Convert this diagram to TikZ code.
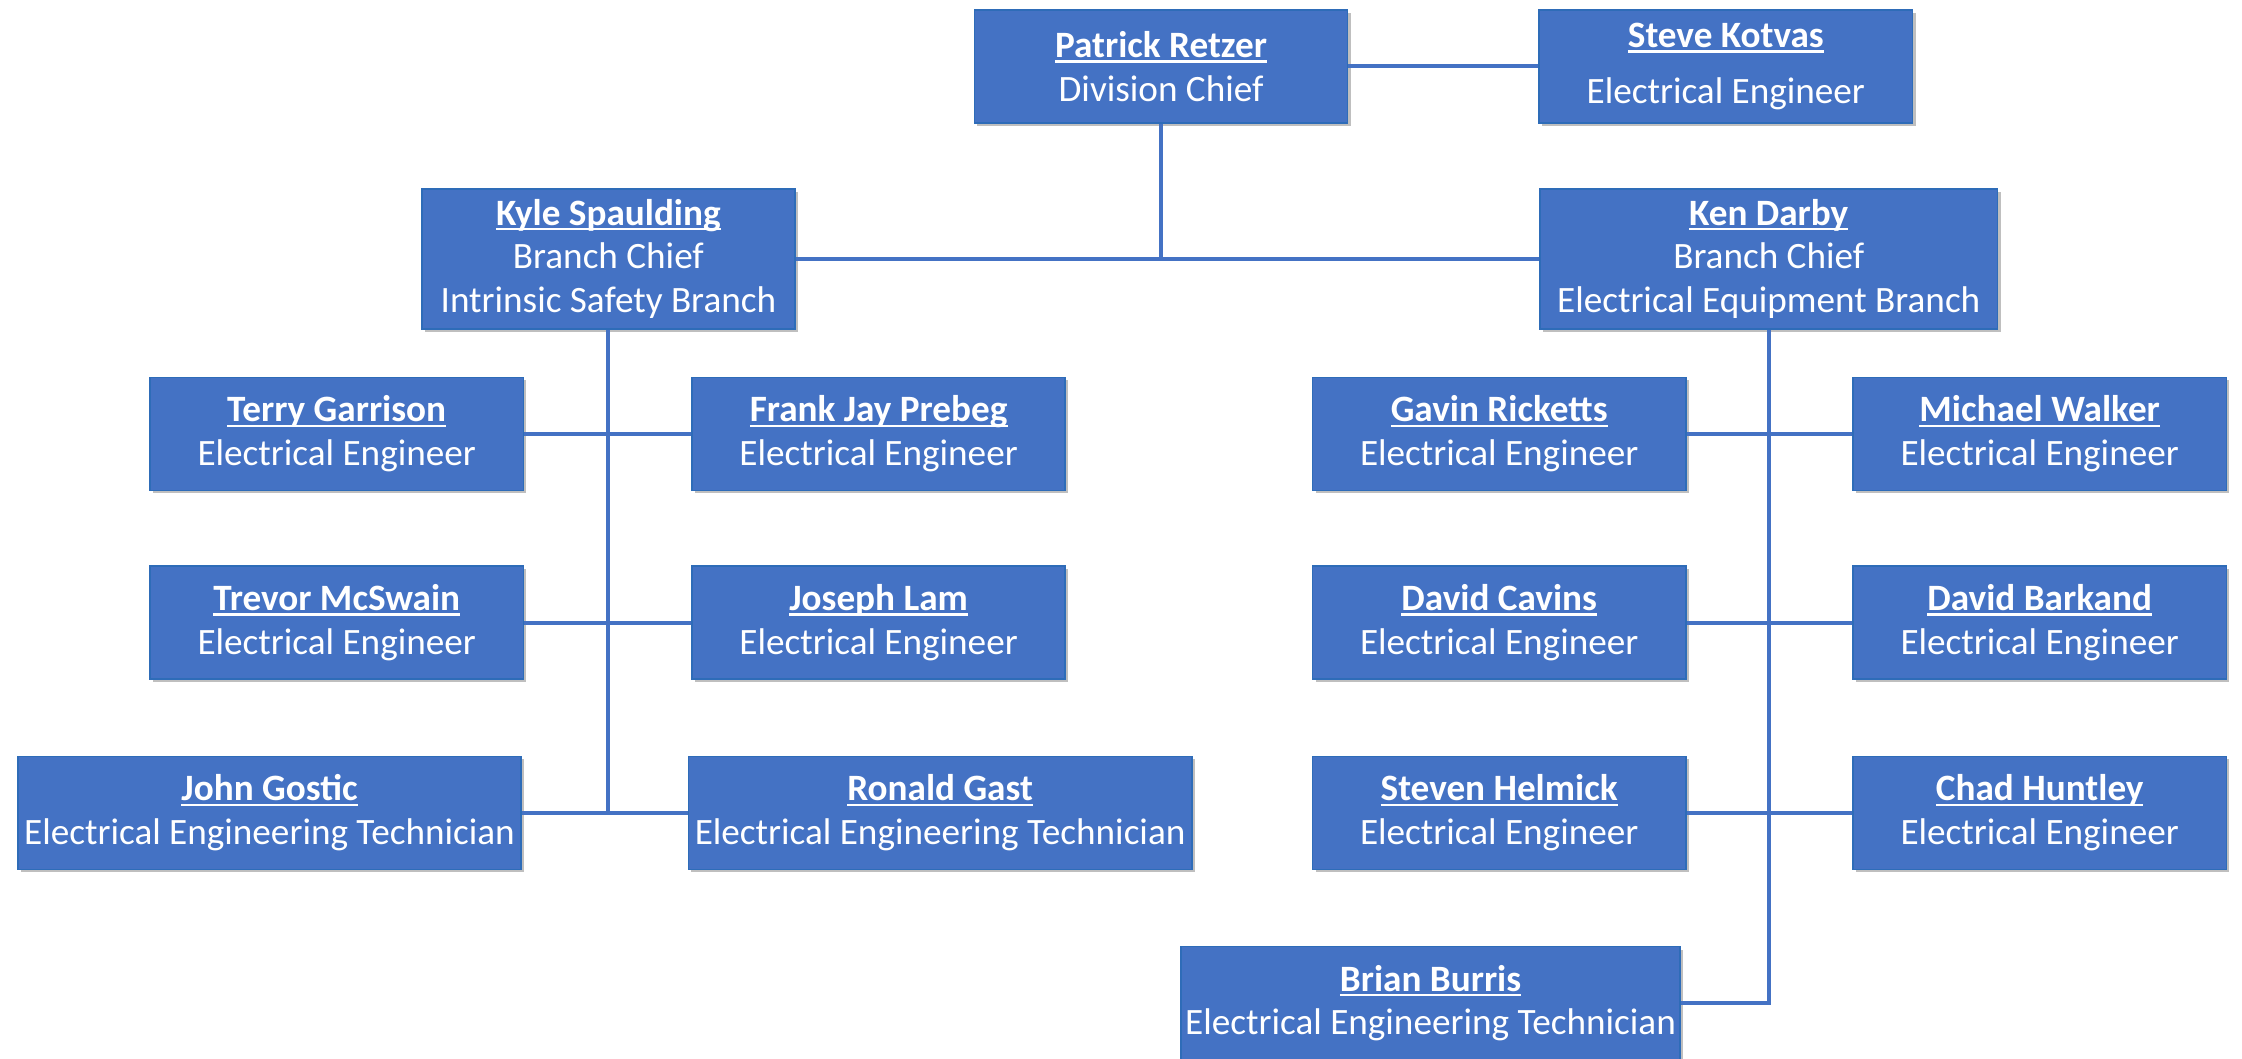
\documentclass[tikz,border=0pt]{standalone}
\usepackage{fontspec}
\setmainfont{Carlito}
\usepackage{xcolor}
\definecolor{boxfill}{RGB}{68,114,196}
\definecolor{boxline}{RGB}{46,108,184}
\definecolor{linkcol}{RGB}{68,114,196}
\usetikzlibrary{shadows}
\newcommand{\uname}[1]{{\bfseries\setbox0\hbox{#1}\rlap{\rule[-2.5pt]{\wd0}{1.2pt}}\box0}}

\begin{document}
\begin{tikzpicture}[
  x=0.025cm, y=-0.025cm,
  staff/.style={rectangle, draw=boxline, line width=0.8pt, fill=boxfill, text=white,
                align=center, inner sep=0pt, minimum width=6.525cm, minimum height=1.975cm,
                font=\fontsize{18.5}{21.7}\selectfont,
                drop shadow={shadow xshift=1.5pt, shadow yshift=-1.5pt, opacity=0.25, fill=black}},
  chief/.style={staff, minimum height=2.45cm},
  wide/.style={staff, minimum width=8.8cm},
  link/.style={draw=linkcol, line width=2pt}
]
\useasboundingbox (0,0) rectangle (1568,740);

%% division
\node[staff] (pr) at (812,46.5)  {\uname{Patrick Retzer}\\Division Chief};
\node[staff] (sk) at (1207,46.5) {\uname{Steve Kotvas}\\[6pt]Electrical Engineer};

%% branches
\node[chief] (ks) at (425.5,181) {\uname{Kyle Spaulding}\\Branch Chief\\Intrinsic Safety Branch};
\node[chief, minimum width=8cm] (kd) at (1237,181) {\uname{Ken Darby}\\Branch Chief\\Electrical Equipment Branch};

%% intrinsic safety branch
\node[staff] (tg) at (235.5,303.5) {\uname{Terry Garrison}\\Electrical Engineer};
\node[staff] (fp) at (614.5,303.5) {\uname{Frank Jay Prebeg}\\Electrical Engineer};
\node[staff] (tm) at (235.5,435.5) {\uname{Trevor McSwain}\\Electrical Engineer};
\node[staff] (jl) at (614.5,435.5) {\uname{Joseph Lam}\\Electrical Engineer};
\node[wide]  (jg) at (188.5,568.5) {\uname{John Gostic}\\Electrical Engineering Technician};
\node[wide]  (rg) at (657.5,568.5) {\uname{Ronald Gast}\\Electrical Engineering Technician};

%% electrical equipment branch
\node[staff] (gr) at (1048.5,303.5) {\uname{Gavin Ricketts}\\Electrical Engineer};
\node[staff] (mw) at (1426.5,303.5) {\uname{Michael Walker}\\Electrical Engineer};
\node[staff] (dc) at (1048.5,435.5) {\uname{David Cavins}\\Electrical Engineer};
\node[staff] (db) at (1426.5,435.5) {\uname{David Barkand}\\Electrical Engineer};
\node[staff] (sh) at (1048.5,568.5) {\uname{Steven Helmick}\\Electrical Engineer};
\node[staff] (ch) at (1426.5,568.5) {\uname{Chad Huntley}\\Electrical Engineer};
\node[wide, minimum width=8.725cm] (bb) at (1000.5,701.5) {\uname{Brian Burris}\\Electrical Engineering Technician};

%% connectors
\draw[link] (pr.east) -- (sk.west);
\draw[link] (pr.south) -- (pr.south |- ks.east);
\draw[link] (ks.east) -- (kd.west);

\coordinate (ksend) at (ks.south |- jg.east);
\draw[link] (ks.south) -- (ksend);
\draw[link] (tg.east) -- (fp.west);
\draw[link] (tm.east) -- (jl.west);
\draw[link] (jg.east) -- (rg.west);

\coordinate (kdend) at (kd.south |- bb.east);
\draw[link] (kd.south) -- (kdend) -- (bb.east);
\draw[link] (gr.east) -- (mw.west);
\draw[link] (dc.east) -- (db.west);
\draw[link] (sh.east) -- (ch.west);
\end{tikzpicture}
\end{document}
